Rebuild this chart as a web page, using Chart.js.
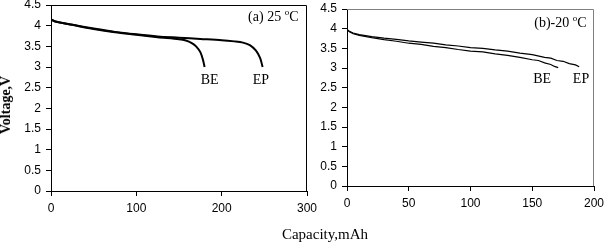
<!DOCTYPE html>
<html>
<head>
<meta charset="utf-8">
<script src="https://cdn.jsdelivr.net/npm/chart.js@4"></script>
<style>
  body { margin: 0; background: #fff; width: 605px; height: 243px; position: relative; overflow: hidden; }
  canvas { position: absolute; top: 0; }
  #chartA { left: 0; }
  #chartB { left: 300px; }
  .ytitle {
    position: absolute; left: 6px; top: 105px;
    font: bold 14px "Liberation Serif", "Times New Roman", serif;
    transform: translate(-50%, -50%) rotate(-90deg);
    white-space: nowrap;
  }
  .xtitle {
    position: absolute; left: 325px; top: 226px;
    font: 15px "Liberation Serif", "Times New Roman", serif;
    transform: translateX(-50%);
    white-space: nowrap;
  }
</style>
</head>
<body>
<canvas id="chartA" width="330" height="243"></canvas>
<canvas id="chartB" width="305" height="243"></canvas>
<div class="ytitle">Voltage,V</div>
<div class="xtitle">Capacity,mAh</div>
<script>
// (a) 25 C
const capA_BE = [0, 5, 15, 25, 50, 75, 100, 125, 150, 158, 165, 170, 175, 178, 180];
const voltA_BE = [4.15, 4.10, 4.06, 4.02, 3.92, 3.84, 3.78, 3.72, 3.67, 3.64, 3.58, 3.50, 3.36, 3.18, 3.0];
const capA_EP = [0, 5, 15, 25, 50, 75, 100, 125, 150, 175, 200, 215, 225, 233, 240, 245, 248];
const voltA_EP = [4.15, 4.10, 4.06, 4.02, 3.93, 3.85, 3.79, 3.74, 3.71, 3.68, 3.65, 3.62, 3.59, 3.53, 3.40, 3.22, 3.0];

// (b) -20 C
const capB_EP = [0, 2, 5, 10, 20, 30, 40, 50, 60, 70, 80, 90, 100, 110, 120, 130, 140, 150, 160, 165, 170, 175, 180, 185, 188];
const voltB_EP = [3.98, 3.93, 3.89, 3.85, 3.80, 3.76, 3.73, 3.69, 3.66, 3.63, 3.59, 3.56, 3.52, 3.50, 3.46, 3.43, 3.38, 3.34, 3.27, 3.25, 3.19, 3.17, 3.11, 3.08, 3.03];
const capB_BE = [0, 2, 5, 10, 20, 30, 40, 50, 60, 70, 80, 90, 100, 110, 120, 130, 140, 150, 155, 160, 165, 168, 171];
const voltB_BE = [3.98, 3.92, 3.87, 3.83, 3.77, 3.72, 3.68, 3.63, 3.60, 3.55, 3.52, 3.47, 3.43, 3.41, 3.36, 3.32, 3.27, 3.21, 3.19, 3.13, 3.09, 3.04, 3.01];

const yTicks = [0, 0.5, 1, 1.5, 2, 2.5, 3, 3.5, 4, 4.5];
const xTicksA = [0, 100, 200, 300];
const xTicksB = [0, 50, 100, 150, 200];

const serif = '"Liberation Serif", "Times New Roman", serif';
const sans = '"Liberation Sans", Arial, sans-serif';

const toPoints = (xs, ys) => xs.map((x, i) => ({ x: x, y: ys[i] }));

// frame on top and right of the plot area
const framePlugin = {
    id: 'frame',
    afterDraw(chart, args, opts) {
        const a = chart.chartArea;
        const ctx = chart.ctx;
        ctx.save();
        ctx.strokeStyle = opts.color;
        ctx.lineWidth = 1;
        ctx.beginPath();
        ctx.moveTo(a.left, a.top + 0.5);
        ctx.lineTo(a.right - 0.5, a.top + 0.5);
        ctx.lineTo(a.right - 0.5, a.bottom);
        ctx.stroke();
        ctx.restore();
    }
};

// text labels placed in data coordinates
const notesPlugin = {
    id: 'notes',
    afterDraw(chart, args, opts) {
        const ctx = chart.ctx;
        const xs = chart.scales.x, ys = chart.scales.y;
        ctx.save();
        ctx.fillStyle = '#000';
        ctx.textBaseline = 'alphabetic';
        opts.items.forEach(it => {
            const px = xs.getPixelForValue(it.x);
            const py = ys.getPixelForValue(it.y);
            if (it.sup) {
                // "(a) 25 " + superscript o + "C", right aligned
                ctx.font = '14px ' + serif;
                const w1 = ctx.measureText(it.text).width;
                const w3 = ctx.measureText('C').width;
                ctx.font = '9px ' + serif;
                const w2 = ctx.measureText('o').width;
                let x = px - (w1 + w2 + w3);
                ctx.textAlign = 'left';
                ctx.font = '14px ' + serif;
                ctx.fillText(it.text, x, py);
                x += w1;
                ctx.font = '9px ' + serif;
                ctx.fillText('o', x, py - 6);
                x += w2;
                ctx.font = '14px ' + serif;
                ctx.fillText('C', x, py);
            } else {
                ctx.font = '14px ' + serif;
                ctx.textAlign = 'center';
                ctx.fillText(it.text, px, py);
            }
        });
        ctx.restore();
    }
};

function makeChart(id, datasets, xMax, xTicks, box, frameColor, notes) {
    const ctx = document.getElementById(id).getContext('2d');
    return new Chart(ctx, {
        type: 'line',
        data: { datasets: datasets },
        plugins: [framePlugin, notesPlugin],
        options: {
            responsive: false,
            animation: false,
            layout: { padding: { left: 0, top: box.top, right: box.right, bottom: 0 } },
            elements: { point: { radius: 0 } },
            plugins: {
                legend: { display: false },
                tooltip: { enabled: false },
                frame: { color: frameColor },
                notes: { items: notes }
            },
            scales: {
                x: {
                    type: 'linear',
                    min: 0,
                    max: xMax,
                    afterBuildTicks: s => { s.ticks = xTicks.map(v => ({ value: v })); },
                    afterFit: s => { s.height = box.xHeight; s.paddingLeft = 0; s.paddingRight = 0; },
                    grid: { drawOnChartArea: false, drawTicks: true, tickLength: 5, color: '#000' },
                    border: { color: '#000', width: 1 },
                    ticks: { color: '#000', font: { family: sans, size: 12 }, padding: 5, maxRotation: 0,
                             callback: v => String(v) }
                },
                y: {
                    min: 0,
                    max: 4.5,
                    afterBuildTicks: s => { s.ticks = yTicks.map(v => ({ value: v })); },
                    afterFit: s => { s.width = box.yWidth; s.paddingTop = 0; s.paddingBottom = 0; },
                    grid: { drawOnChartArea: false, drawTicks: true, tickLength: 5, color: '#000' },
                    border: { color: '#000', width: 1 },
                    ticks: { color: '#000', font: { family: sans, size: 12 }, padding: 5,
                             callback: v => String(v) }
                }
            }
        }
    });
}

makeChart('chartA', [
    { label: 'BE', data: toPoints(capA_BE, voltA_BE), borderColor: '#000', borderWidth: 2, tension: 0.3 },
    { label: 'EP', data: toPoints(capA_EP, voltA_EP), borderColor: '#000', borderWidth: 2, tension: 0.3 }
], 300, xTicksA,
   { top: 5, right: 23, xHeight: 52, yWidth: 51 }, '#000',
   [
       { text: 'BE', x: 186, y: 2.59 },
       { text: 'EP', x: 246, y: 2.59 },
       { text: '(a) 25 ', x: 290, y: 4.11, sup: true }
   ]);

makeChart('chartB', [
    { label: 'BE', data: toPoints(capB_BE, voltB_BE), borderColor: '#000', borderWidth: 1.2, tension: 0 },
    { label: 'EP', data: toPoints(capB_EP, voltB_EP), borderColor: '#000', borderWidth: 1.2, tension: 0 }
], 200, xTicksB,
   { top: 9, right: 11, xHeight: 57, yWidth: 47 }, '#808080',
   [
       { text: 'BE', x: 158, y: 2.62 },
       { text: 'EP', x: 189.5, y: 2.62 },
       { text: '(b)-20 ', x: 194, y: 4.04, sup: true }
   ]);
</script>
</body>
</html>
